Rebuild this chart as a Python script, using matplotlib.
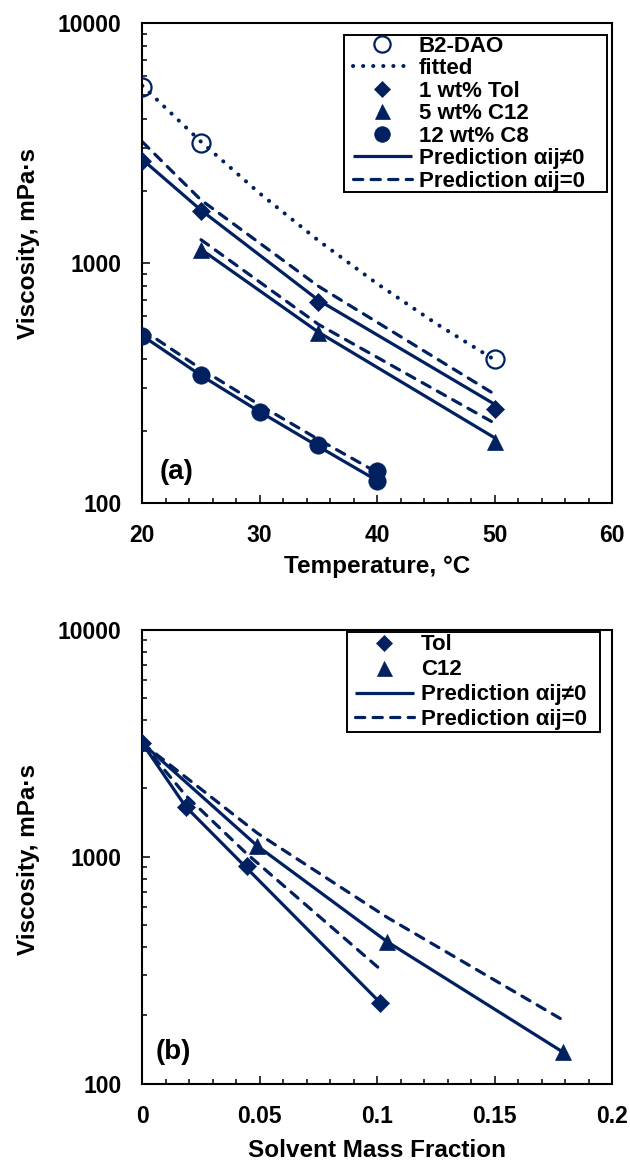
import matplotlib
matplotlib.use("Agg")
import matplotlib.pyplot as plt
from matplotlib.patches import Rectangle
from matplotlib.ticker import FixedLocator, MultipleLocator, FuncFormatter, LogLocator, NullFormatter

# ---------------- data: (a) viscosity vs temperature ----------------
temp_b2 = [20, 25, 50]
visc_b2 = [5430, 3160, 400]

temp_fit = [20, 25, 30, 35, 40, 45, 50]
visc_fit = [5480, 3200, 1950, 1240, 820, 560, 395]

temp_tol = [20, 25, 35, 50]
visc_tol = [2660, 1640, 690, 246]
pred_tol = [2700, 1660, 700, 258]
pred0_tol = [3200, 1830, 800, 284]

temp_c12 = [25, 35, 50]
visc_c12 = [1135, 511, 180]
pred_c12 = [1140, 515, 187]
pred0_c12 = [1250, 555, 215]

temp_c8 = [20, 25, 30, 35, 40, 40]
visc_c8 = [498, 341, 240, 175, 136, 123]
temp_c8_pred = [20, 25, 30, 35, 40]
pred_c8 = [498, 340, 240, 172, 124]
pred0_c8 = [528, 362, 256, 184, 134]

# ---------------- data: (b) viscosity vs solvent mass fraction ----------------
frac_tol = [0, 0.0185, 0.0445, 0.1012]
visc_tol_b = [3160, 1660, 910, 226]
pred_tol_b = [3160, 1660, 890, 228]
pred0_tol_b = [3160, 1860, 1030, 320]

frac_c12 = [0, 0.049, 0.1043, 0.179]
visc_c12_b = [3160, 1115, 422, 138]
pred_c12_b = [3160, 1115, 422, 138]
pred0_c12_b = [3160, 1270, 540, 191]

NAVY = "#002060"
FONT = "Liberation Sans"
TICK_FS = 16.5
LABEL_FS = 17.5
LEG_FS = 16

plt.rcParams["font.family"] = [FONT, "DejaVu Sans"]
plt.rcParams["font.weight"] = "bold"

W, H = 630, 1164
fig = plt.figure(figsize=(W / 100, H / 100), dpi=100)


def px_axes(left, top, right, bottom):
    return fig.add_axes([left / W, 1 - bottom / H, (right - left) / W, (bottom - top) / H])


def px_box(ax, left, top, right, bottom):
    """Legend frame drawn in figure pixel units, above the data but below the legend."""
    ax.add_patch(Rectangle((left / W, 1 - bottom / H), (right - left) / W,
                           (bottom - top) / H, transform=fig.transFigure,
                           facecolor="white", edgecolor="black", lw=1.4,
                           zorder=5, clip_on=False))


ax1 = px_axes(142.3, 23, 612, 503)
ax2 = px_axes(142.3, 629.7, 612, 1083.7)

solid_kw = dict(color=NAVY, lw=2.3, solid_capstyle="butt", zorder=2)
dash_kw = dict(color=NAVY, lw=2.3, linestyle=(0, (2.9, 2.6)), dash_capstyle="round", zorder=2)
dot_kw = dict(color=NAVY, lw=2.9, linestyle=(0, (0.05, 2.45)), dash_capstyle="round", zorder=2)
diamond_kw = dict(ls="none", marker="D", ms=8.7, color=NAVY, mec=NAVY, mew=0.5, zorder=4)
tri_kw = dict(ls="none", marker="^", ms=12, color=NAVY, mec=NAVY, mew=0.5, zorder=4)
circ_kw = dict(ls="none", marker="o", ms=12.5, color=NAVY, mec=NAVY, mew=0.5, zorder=4)
open_kw = dict(ls="none", marker="o", ms=13, mfc="none", mec=NAVY, mew=1.6, zorder=4)


def style_axes(ax, xlim, xmajor, xminor, xfmt):
    ax.set_yscale("log")
    ax.set_ylim(100, 10000)
    ax.set_xlim(*xlim)
    ax.xaxis.set_major_locator(MultipleLocator(xmajor))
    ax.xaxis.set_minor_locator(MultipleLocator(xminor))
    ax.xaxis.set_major_formatter(FuncFormatter(xfmt))
    ax.yaxis.set_major_locator(FixedLocator([100, 1000, 10000]))
    ax.yaxis.set_minor_locator(LogLocator(base=10, subs=range(2, 10)))
    ax.yaxis.set_major_formatter(FuncFormatter(lambda v, p: f"{v:.0f}"))
    ax.yaxis.set_minor_formatter(NullFormatter())
    ax.tick_params(which="both", direction="in", top=False, right=False,
                   width=1.1, color="black", labelsize=TICK_FS, pad=15)
    ax.tick_params(which="major", length=6)
    ax.tick_params(which="minor", length=3.8)
    for lab in ax.get_xticklabels() + ax.get_yticklabels():
        lab.set_fontweight("bold")
    for sp in ax.spines.values():
        sp.set_linewidth(1.5)
        sp.set_color("black")


def add_legend(ax, handles, labels, left, top, spacing):
    leg = ax.legend(handles, labels, loc="upper left",
                    bbox_to_anchor=(left / W, 1 - top / H), bbox_transform=fig.transFigure,
                    borderaxespad=0, borderpad=0, fontsize=LEG_FS, frameon=False,
                    handlelength=2.65, handletextpad=0.32, labelspacing=spacing,
                    markerscale=0.9)
    leg.set_zorder(6)
    for t in leg.get_texts():
        t.set_fontweight("bold")
    return leg


# ---------------- panel (a) ----------------
ax1.plot(temp_fit, visc_fit, **dot_kw, label="fitted")
ax1.plot(temp_tol, pred_tol, **solid_kw, label="Prediction αij≠0")
ax1.plot(temp_tol, pred0_tol, **dash_kw, label="Prediction αij=0")
ax1.plot(temp_c12, pred_c12, **solid_kw)
ax1.plot(temp_c12, pred0_c12, **dash_kw)
ax1.plot(temp_c8_pred, pred_c8, **solid_kw)
ax1.plot(temp_c8_pred, pred0_c8, **dash_kw)
ax1.plot(temp_b2, visc_b2, **open_kw, label="B2-DAO")
ax1.plot(temp_tol, visc_tol, **diamond_kw, label="1 wt% Tol")
ax1.plot(temp_c12, visc_c12, **tri_kw, label="5 wt% C12")
ax1.plot(temp_c8, visc_c8, **circ_kw, label="12 wt% C8")

style_axes(ax1, (20, 60), 10, 2, lambda v, p: f"{v:.0f}")
ax1.set_xlabel("Temperature, °C", fontsize=LABEL_FS, fontweight="bold", labelpad=6)
ax1.set_ylabel("Viscosity, mPa·s", fontsize=LABEL_FS, fontweight="bold", va="center")
ax1.yaxis.set_label_coords(-0.243, 0.541)
ax1.text(0.072, 0.065, "(a)", transform=ax1.transAxes, fontsize=20, fontweight="bold",
         ha="center", va="center")

h1, l1 = ax1.get_legend_handles_labels()
order1 = ["B2-DAO", "fitted", "1 wt% Tol", "5 wt% C12", "12 wt% C8",
          "Prediction αij≠0", "Prediction αij=0"]
hmap1 = dict(zip(l1, h1))
px_box(ax1, 344, 35, 607, 192)
add_legend(ax1, [hmap1[k] for k in order1], order1, 353, 35.5, 0.068)

# ---------------- panel (b) ----------------
ax2.plot(frac_tol, pred_tol_b, **solid_kw, label="Prediction αij≠0")
ax2.plot(frac_tol, pred0_tol_b, **dash_kw, label="Prediction αij=0")
ax2.plot(frac_c12, pred_c12_b, **solid_kw)
ax2.plot(frac_c12, pred0_c12_b, **dash_kw)
ax2.plot(frac_tol, visc_tol_b, **diamond_kw, label="Tol")
ax2.plot(frac_c12, visc_c12_b, **tri_kw, label="C12")

style_axes(ax2, (0, 0.2), 0.05, 0.01, lambda v, p: f"{v:g}")
ax2.set_xlabel("Solvent Mass Fraction", fontsize=LABEL_FS, fontweight="bold", labelpad=8)
ax2.set_ylabel("Viscosity, mPa·s", fontsize=LABEL_FS, fontweight="bold", va="center")
ax2.yaxis.set_label_coords(-0.243, 0.493)
ax2.text(0.065, 0.07, "(b)", transform=ax2.transAxes, fontsize=20, fontweight="bold",
         ha="center", va="center")

h2, l2 = ax2.get_legend_handles_labels()
order2 = ["Tol", "C12", "Prediction αij≠0", "Prediction αij=0"]
hmap2 = dict(zip(l2, h2))
px_box(ax2, 347, 632, 600, 732)
add_legend(ax2, [hmap2[k] for k in order2], order2, 355, 634.5, 0.176)

fig.savefig("out.png", dpi=100, facecolor="white")
